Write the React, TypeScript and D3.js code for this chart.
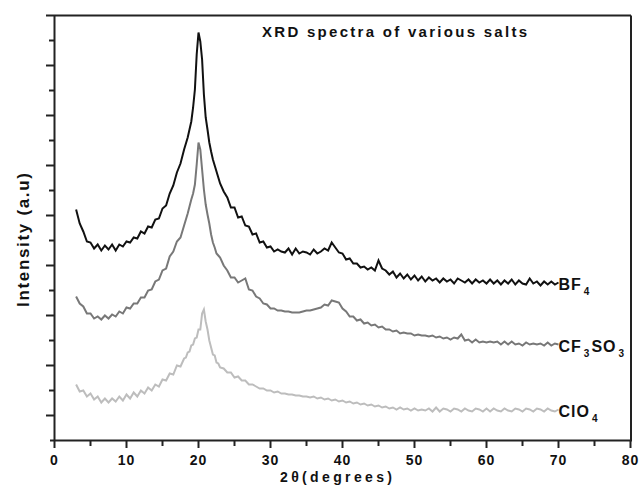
import React from "react";
import * as d3 from "d3";

const angles = [
  3, 3.5, 4, 4.5, 5, 5.5, 6, 6.5, 7, 7.5,
  8, 8.5, 9, 9.5, 10, 10.5, 11, 11.5, 12, 12.5,
  13, 13.5, 14, 14.5, 15, 15.5, 16, 16.5, 17, 17.5,
  18, 18.25, 18.5, 18.75, 19, 19.25, 19.5, 19.75, 20, 20.25,
  20.5, 20.75, 21, 21.25, 21.5, 21.75, 22, 22.25, 22.5, 22.75,
  23, 23.5, 24, 24.5, 25, 25.5, 26, 26.5, 27, 27.5,
  28, 28.5, 29, 29.5, 30, 30.5, 31, 31.5, 32, 32.5,
  33, 33.5, 34, 34.5, 35, 35.5, 36, 36.5, 37, 37.5,
  38, 38.5, 39, 39.5, 40, 40.5, 41, 41.5, 42, 42.5,
  43, 43.5, 44, 44.5, 45, 45.5, 46, 46.5, 47, 47.5,
  48, 48.5, 49, 49.5, 50, 50.5, 51, 51.5, 52, 52.5,
  53, 53.5, 54, 54.5, 55, 55.5, 56, 56.5, 57, 57.5,
  58, 58.5, 59, 59.5, 60, 60.5, 61, 61.5, 62, 62.5,
  63, 63.5, 64, 64.5, 65, 65.5, 66, 66.5, 67, 67.5,
  68, 68.5, 69, 69.5, 70,
];

const bf4 = [
  924, 868, 836, 796, 792, 768, 784, 760, 780, 764,
  784, 760, 784, 776, 796, 792, 812, 808, 836, 828,
  856, 852, 884, 888, 928, 940, 988, 1020, 1072, 1108,
  1164, 1188, 1212, 1244, 1276, 1332, 1404, 1544, 1632, 1596,
  1524, 1384, 1292, 1244, 1192, 1156, 1124, 1100, 1076, 1052,
  1028, 996, 972, 932, 932, 892, 896, 860, 856, 824,
  828, 792, 796, 772, 776, 756, 764, 756, 752, 768,
  744, 768, 748, 756, 752, 744, 764, 748, 756, 768,
  760, 792, 772, 752, 748, 724, 728, 708, 708, 692,
  696, 684, 692, 680, 720, 688, 680, 664, 676, 652,
  668, 648, 664, 644, 660, 640, 656, 636, 652, 640,
  648, 632, 648, 636, 644, 628, 648, 640, 632, 644,
  628, 644, 632, 640, 628, 644, 628, 640, 624, 640,
  628, 644, 624, 640, 628, 624, 648, 628, 636, 620,
  636, 624, 636, 624, 632,
];

const cf3so3 = [
  576, 548, 536, 508, 508, 488, 496, 484, 500, 488,
  504, 496, 516, 508, 532, 528, 548, 548, 572, 572,
  600, 604, 636, 644, 680, 688, 736, 756, 796, 812,
  860, 884, 908, 936, 964, 988, 1024, 1104, 1192, 1164,
  1084, 1004, 944, 904, 868, 824, 792, 772, 748, 740,
  732, 700, 680, 652, 652, 632, 640, 648, 604, 600,
  576, 568, 548, 544, 528, 528, 520, 520, 516, 516,
  512, 512, 512, 516, 520, 520, 524, 528, 532, 544,
  540, 560, 556, 552, 528, 516, 496, 496, 480, 484,
  468, 472, 460, 464, 452, 456, 444, 444, 436, 440,
  428, 432, 428, 428, 420, 424, 420, 420, 416, 420,
  412, 416, 408, 412, 404, 412, 408, 424, 400, 404,
  392, 404, 392, 396, 392, 396, 392, 396, 384, 396,
  384, 396, 384, 388, 380, 392, 384, 388, 384, 388,
  380, 392, 380, 388, 384,
];

const clo4 = [
  224, 196, 200, 176, 188, 164, 176, 152, 168, 152,
  168, 156, 176, 160, 184, 168, 192, 176, 200, 188,
  212, 200, 224, 216, 244, 240, 268, 264, 300, 296,
  328, 332, 352, 356, 380, 384, 408, 412, 444, 444,
  508, 524, 476, 444, 400, 372, 344, 340, 312, 308,
  292, 288, 272, 272, 252, 256, 240, 240, 224, 224,
  216, 208, 208, 200, 200, 192, 196, 188, 188, 184,
  184, 180, 180, 176, 176, 172, 176, 168, 172, 164,
  168, 160, 164, 156, 160, 152, 156, 148, 152, 144,
  148, 140, 144, 136, 140, 132, 136, 128, 132, 124,
  132, 124, 128, 120, 128, 120, 124, 120, 128, 116,
  132, 116, 128, 124, 116, 128, 124, 116, 128, 120,
  116, 128, 124, 116, 128, 116, 128, 120, 116, 128,
  120, 116, 128, 124, 116, 128, 124, 116, 128, 124,
  116, 128, 120, 116, 124,
];

const seriesNames = ["BF4", "CF3SO3", "ClO4"];
const seriesColors = ["#111111", "#787878", "#bdbdbd"];
const xMajorTicks = [0, 10, 20, 30, 40, 50, 60, 70, 80];
const xMinorTicks = [5, 15, 25, 35, 45, 55, 65, 75];
const yTicks = [100, 200, 300, 400, 500, 600, 700, 800, 900, 1000, 1100, 1200, 1300, 1400, 1500, 1600];

const FONT = "'Liberation Sans', Arial, sans-serif";

export default function App() {
  const x = d3.scaleLinear().domain([0, 80]).range([54.5, 630.5]);
  const y = d3.scaleLinear().domain([0, 1700]).range([440.5, 15.5]);
  const allSeries = [bf4, cf3so3, clo4];
  const line = d3
    .line<number>()
    .x((_, i) => x(angles[i]))
    .y((d) => y(d));

  const axisColor = "#222";
  const lastX = x(angles[angles.length - 1]);

  const label = (name: string, yy: number) => {
    const common = { fontFamily: FONT, fontWeight: 700, fill: "#111" };
    if (name === "BF4")
      return (
        <text x={lastX} y={yy} fontSize={16} letterSpacing={1} {...common}>
          <tspan>BF</tspan>
          <tspan dx={2} dy={5} fontSize={10}>4</tspan>
        </text>
      );
    if (name === "CF3SO3")
      return (
        <text x={lastX} y={yy} fontSize={16} letterSpacing={1} {...common}>
          <tspan>CF</tspan>
          <tspan dx={2} dy={5} fontSize={10}>3</tspan>
          <tspan dx={1} dy={-5}>SO</tspan>
          <tspan dx={2} dy={5} fontSize={10}>3</tspan>
        </text>
      );
    return (
      <text x={lastX} y={yy} fontSize={16} letterSpacing={1} {...common}>
        <tspan>ClO</tspan>
        <tspan dx={2} dy={5} fontSize={10}>4</tspan>
      </text>
    );
  };

  return (
    <svg
      width={640}
      height={485}
      style={{ position: "absolute", left: 0, top: 0, background: "#fff" }}
    >
      <rect x={0} y={0} width={640} height={485} fill="#fff" />
      {/* frame */}
      <line x1={46} y1={15.5} x2={631} y2={15.5} stroke={axisColor} strokeWidth={2} />
      <line x1={631} y1={15.5} x2={631} y2={441} stroke={axisColor} strokeWidth={2} />
      <line x1={54.5} y1={15.5} x2={54.5} y2={441} stroke={axisColor} strokeWidth={2} />
      <line x1={50} y1={440.5} x2={632} y2={440.5} stroke={axisColor} strokeWidth={2} />

      {/* y ticks */}
      {yTicks.map((t, i) => (
        <line
          key={"yt" + t}
          x1={i % 2 === 0 ? 46 : 49}
          x2={54.5}
          y1={y(t)}
          y2={y(t)}
          stroke={axisColor}
          strokeWidth={2}
        />
      ))}

      {/* x ticks */}
      {xMajorTicks.map((t) => (
        <line key={"xM" + t} x1={x(t)} x2={x(t)} y1={440.5} y2={448} stroke={axisColor} strokeWidth={2} />
      ))}
      {xMinorTicks.map((t) => (
        <line key={"xm" + t} x1={x(t)} x2={x(t)} y1={440.5} y2={446} stroke={axisColor} strokeWidth={2} />
      ))}
      {xMajorTicks.map((t) => (
        <text
          key={"xl" + t}
          x={x(t)}
          y={465}
          textAnchor="middle"
          fontFamily={FONT}
          fontWeight={700}
          fontSize={14}
          letterSpacing={1}
          fill="#111"
        >
          {t}
        </text>
      ))}

      {/* series */}
      {allSeries.map((s, k) => (
        <path
          key={seriesNames[k]}
          d={line(s) || ""}
          fill="none"
          stroke={seriesColors[k]}
          strokeWidth={2}
          strokeLinejoin="miter"
        />
      ))}

      {/* series labels */}
      {allSeries.map((s, k) => (
        <g key={"lab" + k}>{label(seriesNames[k], y(s[s.length - 1]) + 7)}</g>
      ))}

      {/* title */}
      <text
        x={262}
        y={37}
        fontFamily={FONT}
        fontWeight={700}
        fontSize={15}
        textLength={265}
        lengthAdjust="spacing"
        fill="#111"
      >
        XRD spectra of various salts
      </text>

      {/* y label */}
      <text
        transform="translate(29,240) rotate(-90)"
        textAnchor="middle"
        fontFamily={FONT}
        fontWeight={700}
        fontSize={17}
        textLength={134}
        lengthAdjust="spacing"
        fill="#111"
      >
        Intensity (a.u)
      </text>

      {/* x label */}
      <text
        x={280}
        y={481.5}
        fontFamily={FONT}
        fontWeight={700}
        fontSize={14}
        textLength={112}
        lengthAdjust="spacing"
        fill="#111"
      >
        2θ(degrees)
      </text>
    </svg>
  );
}
